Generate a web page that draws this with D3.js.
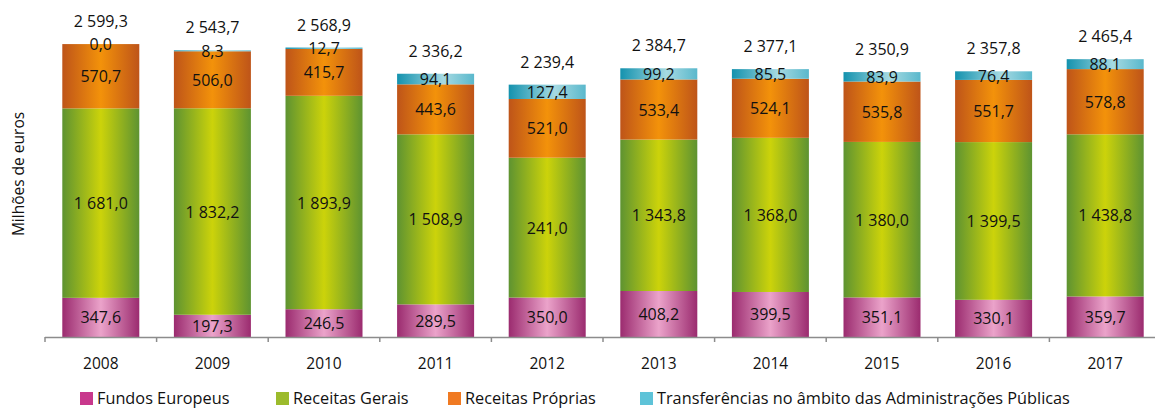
<!DOCTYPE html>
<html>
<head>
<meta charset="utf-8">
<script src="https://cdn.jsdelivr.net/npm/d3@7"></script>
<style>
  html, body { margin: 0; padding: 0; background: #fff; }
  svg { display: block; font-family: "Open Sans", sans-serif; }
</style>
</head>
<body>
<svg id="chart" width="1155" height="408"></svg>
<script>
const years = ["2008","2009","2010","2011","2012","2013","2014","2015","2016","2017"];
const seriesNames = ["Fundos Europeus","Receitas Gerais","Receitas Próprias","Transferências no âmbito das Administrações Públicas"];
const fundosEuropeus = [347.6,197.3,246.5,289.5,350.0,408.2,399.5,351.1,330.1,359.7];
const receitasGerais = [1681.0,1832.2,1893.9,1508.9,1241.0,1343.8,1368.0,1380.0,1399.5,1438.8];
const receitasProprias = [570.7,506.0,415.7,443.6,521.0,533.4,524.1,535.8,551.7,578.8];
const transferencias = [0.0,8.3,12.7,94.1,127.4,99.2,85.5,83.9,76.4,88.1];
const totals = [2599.3,2543.7,2568.9,2336.2,2239.4,2384.7,2377.1,2350.9,2357.8,2465.4];
// label printed in the source differs from the bar value (2012 "Receitas Gerais" shows "241,0")
const labelOverrides = {"Receitas Gerais|2012": "241,0"};
const yAxisTitle = "Milhões de euros";

const svg = d3.select("#chart");
const locale = d3.formatLocale({decimal: ",", thousands: " ", grouping: [3], currency: ["", " €"]});
const fmt = locale.format(",.1f");

const x = d3.scaleBand().domain(years).range([45, 1161]).paddingInner(0.31).paddingOuter(0.155);
const y = d3.scaleLinear().domain([0, 2600]).range([337, 44]);

const seriesData = [fundosEuropeus, receitasGerais, receitasProprias, transferencias];
const rows = years.map((yr, i) => {
  const r = {year: yr};
  seriesNames.forEach((s, k) => r[s] = seriesData[k][i]);
  return r;
});
const stack = d3.stack().keys(seriesNames)(rows);

// gradients
const gradDefs = [
  {id: "g0", stops: [["0%","#9B2B6F"],["50%","#EBA3CA"],["100%","#9B2B6F"]]},
  {id: "g1", stops: [["0%","#5E9331"],["50%","#CCD30A"],["100%","#5E9331"]]},
  {id: "g2", stops: [["0%","#BE5419"],["50%","#F3920A"],["100%","#BE5419"]]},
  {id: "g3", stops: [["0%","#1492AE"],["60%","#A6DAE2"],["100%","#5AB8CC"]]}
];
const legendColors = ["#C8388C","#9CBB2C","#F07A22","#5EC3D8"];
const defs = svg.append("defs");
gradDefs.forEach(g => {
  const lg = defs.append("linearGradient").attr("id", g.id).attr("x1","0%").attr("x2","100%").attr("y1","0%").attr("y2","0%");
  g.stops.forEach(s => lg.append("stop").attr("offset", s[0]).attr("stop-color", s[1]));
});

// bars
stack.forEach((layer, k) => {
  svg.append("g").selectAll("rect").data(layer).join("rect")
    .attr("x", d => x(d.data.year))
    .attr("width", x.bandwidth())
    .attr("y", d => y(d[1]))
    .attr("height", d => y(d[0]) - y(d[1]))
    .attr("fill", `url(#g${k})`);
});

// axis
const axisG = svg.append("g");
axisG.append("line").attr("x1", 45).attr("x2", 1155).attr("y1", 337.5).attr("y2", 337.5)
  .attr("stroke", "#8c8c8c").attr("stroke-width", 1.5);
const bounds = years.map(yr => x(yr) - x.step() * x.paddingInner() / 2);
axisG.selectAll("line.tick").data(bounds).join("line").attr("class","tick")
  .attr("x1", d => d).attr("x2", d => d).attr("y1", 337).attr("y2", 342)
  .attr("stroke", "#8c8c8c").attr("stroke-width", 1.5);
axisG.selectAll("text").data(years).join("text")
  .attr("x", d => x(d) + x.bandwidth() / 2).attr("y", 363)
  .attr("text-anchor", "middle").attr("dominant-baseline", "central")
  .attr("font-size", 15.5).attr("fill", "#111").text(d => d);

// segment labels
stack.forEach((layer, k) => {
  svg.append("g").selectAll("text").data(layer).join("text")
    .attr("x", d => x(d.data.year) + x.bandwidth() / 2)
    .attr("y", d => (y(d[0]) + y(d[1])) / 2)
    .attr("text-anchor", "middle").attr("dominant-baseline", "central")
    .attr("font-size", 16).attr("fill", "#111")
    .text(d => labelOverrides[seriesNames[k] + "|" + d.data.year] || fmt(d[1] - d[0]));
});

// totals
svg.append("g").selectAll("text").data(years).join("text")
  .attr("x", d => x(d) + x.bandwidth() / 2)
  .attr("y", (d, i) => y(d3.sum(seriesData, s => s[i])) - 23)
  .attr("text-anchor", "middle").attr("dominant-baseline", "central")
  .attr("font-size", 16).attr("fill", "#111")
  .text((d, i) => fmt(totals[i]));

// y title
svg.append("text").attr("transform", "translate(18,174) rotate(-90)")
  .attr("text-anchor", "middle").attr("dominant-baseline", "central")
  .attr("font-size", 15.5).attr("fill", "#111").text(yAxisTitle);

// legend
const legendX = [80, 276, 448, 640];
const lg = svg.append("g");
seriesNames.forEach((s, k) => {
  lg.append("rect").attr("x", legendX[k]).attr("y", 392).attr("width", 13).attr("height", 13).attr("fill", legendColors[k]);
  lg.append("text").attr("x", legendX[k] + 17).attr("y", 397.5).attr("dominant-baseline", "central")
    .attr("font-size", 16.3).attr("fill", "#111").text(s);
});
</script>
</body>
</html>
